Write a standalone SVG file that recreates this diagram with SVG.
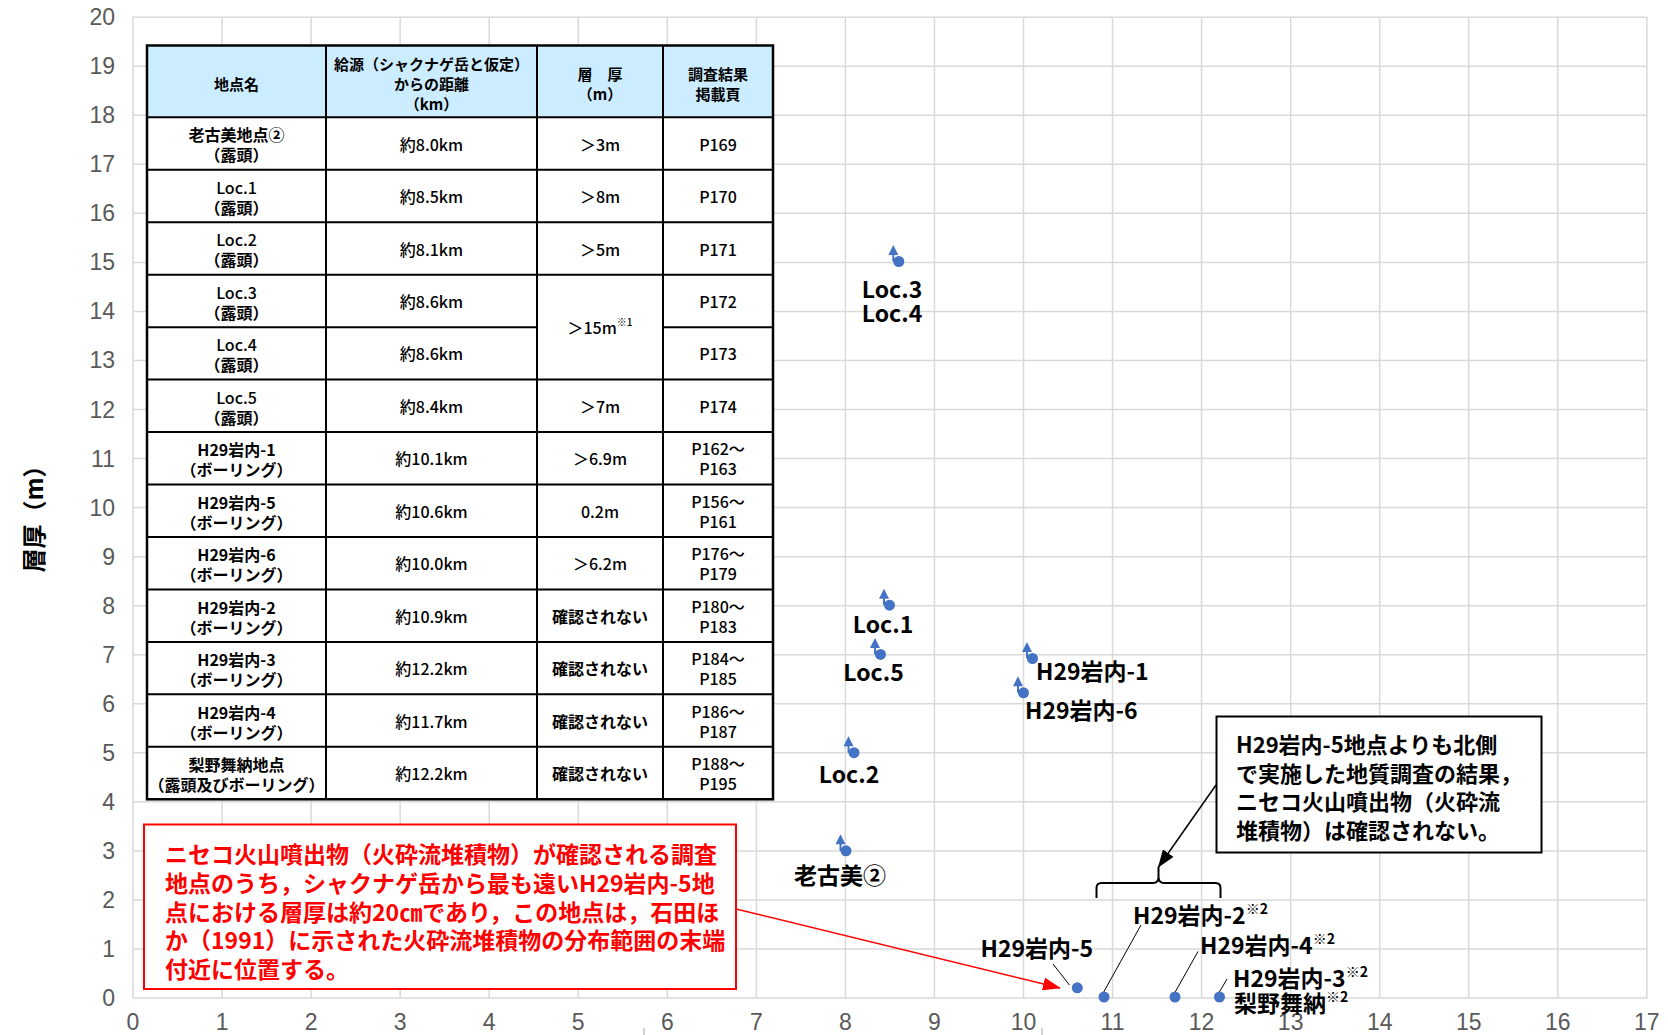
<svg xmlns="http://www.w3.org/2000/svg" width="1668" height="1035" viewBox="0 0 1668 1035">
<style>
.grid{fill:none;stroke:#d9d9d9;stroke-width:1.5}
.ax{font-family:"Liberation Sans",Arial,sans-serif;font-size:23px;fill:#595959;dominant-baseline:central}
.jp{font-family:"Noto Sans CJK JP",sans-serif;font-weight:bold;dominant-baseline:central}
.tb{font-size:16px;text-anchor:middle}
.hd{font-size:15px}
.md{font-weight:500}
.lb{font-size:23px}
.sup{font-size:14px}
.red{fill:#ff0000;font-size:23px}
.dot{fill:#4472c4}
.tl{fill:none;stroke:#000;stroke-width:2}
</style>
<defs>
<marker id="ahR" markerUnits="userSpaceOnUse" markerWidth="18" markerHeight="13" refX="17" refY="6.5" orient="auto">
<path d="M0,0 L18,6.5 L0,13 z" fill="#ff0000"/>
</marker>
<marker id="ahK" markerUnits="userSpaceOnUse" markerWidth="18" markerHeight="13" refX="17" refY="6.5" orient="auto">
<path d="M0,0 L18,6.5 L0,13 z" fill="#000"/>
</marker>
<g id="up">
<path d="M-5.5,-16.5 L-10.5,-6.5 L-0.5,-6.5 z" fill="#4472c4"/>
<polyline points="-5.5,-7 -5.5,-1 -2,1" fill="none" stroke="#4472c4" stroke-width="2"/>
<circle r="5.5" fill="#4472c4"/>
</g>
</defs>
<rect width="1668" height="1035" fill="#fff"/>
<g id="plot-grid">
<path class="grid" d="M222.05,17.2V998M311.1,17.2V998M400.15,17.2V998M489.2,17.2V998M578.25,17.2V998M667.3,17.2V998M756.35,17.2V998M845.4,17.2V998M934.45,17.2V998M1023.5,17.2V998M1112.55,17.2V998M1201.6,17.2V998M1290.65,17.2V998M1379.7,17.2V998M1468.75,17.2V998M1557.8,17.2V998M133,948.96H1646.85M133,899.92H1646.85M133,850.88H1646.85M133,801.84H1646.85M133,752.8H1646.85M133,703.76H1646.85M133,654.72H1646.85M133,605.68H1646.85M133,556.64H1646.85M133,507.6H1646.85M133,458.56H1646.85M133,409.52H1646.85M133,360.48H1646.85M133,311.44H1646.85M133,262.4H1646.85M133,213.36H1646.85M133,164.32H1646.85M133,115.28H1646.85M133,66.24H1646.85"/>
<rect class="grid" x="133" y="17.2" width="1513.85" height="980.8"/>
<path d="M644,1028V1035M1042,1028V1035" stroke="#a6a6a6" stroke-width="1"/>
</g>
<g id="y-axis" class="ax" text-anchor="end">
<text x="115" y="998">0</text><text x="115" y="948.96">1</text><text x="115" y="899.92">2</text><text x="115" y="850.88">3</text><text x="115" y="801.84">4</text><text x="115" y="752.8">5</text><text x="115" y="703.76">6</text><text x="115" y="654.72">7</text><text x="115" y="605.68">8</text><text x="115" y="556.64">9</text><text x="115" y="507.6">10</text><text x="115" y="458.56">11</text><text x="115" y="409.52">12</text><text x="115" y="360.48">13</text><text x="115" y="311.44">14</text><text x="115" y="262.4">15</text><text x="115" y="213.36">16</text><text x="115" y="164.32">17</text><text x="115" y="115.28">18</text><text x="115" y="66.24">19</text><text x="115" y="17.2">20</text>
</g>
<g id="x-axis" class="ax" text-anchor="middle">
<text x="133" y="1022">0</text><text x="222.05" y="1022">1</text><text x="311.1" y="1022">2</text><text x="400.15" y="1022">3</text><text x="489.2" y="1022">4</text><text x="578.25" y="1022">5</text><text x="667.3" y="1022">6</text><text x="756.35" y="1022">7</text><text x="845.4" y="1022">8</text><text x="934.45" y="1022">9</text><text x="1023.5" y="1022">10</text><text x="1112.55" y="1022">11</text><text x="1201.6" y="1022">12</text><text x="1290.65" y="1022">13</text><text x="1379.7" y="1022">14</text><text x="1468.75" y="1022">15</text><text x="1557.8" y="1022">16</text><text x="1646.85" y="1022">17</text>
</g>
<g id="y-title">
<text class="jp" font-size="24" text-anchor="middle" transform="translate(32,513) rotate(-90)">層厚（m）</text>
</g>
<g id="table">
<rect x="147" y="45.5" width="626" height="753.78" fill="#fff"/>
<rect x="147" y="45.5" width="626" height="71.8" fill="#ccecff"/>
<path class="tl" d="M147,117.3H773M147,169.76H773M147,222.22H773M147,274.68H773M147,327.14H537M663,327.14H773M147,379.6H773M147,432.06H773M147,484.52H773M147,536.98H773M147,589.44H773M147,641.9H773M147,694.36H773M147,746.82H773M326,45.5V799.28M537,45.5V799.28M663,45.5V799.28"/>
<rect x="147" y="45.5" width="626" height="753.78" fill="none" stroke="#000" stroke-width="2.5"/>
<g class="jp tb">
<text class="hd" x="236.5" y="83">地点名</text>
<text class="hd" x="431.5" y="63">給源（シャクナゲ岳と仮定）</text>
<text class="hd" x="431.5" y="83">からの距離</text>
<text class="hd" x="431.5" y="103">（km）</text>
<text class="hd" x="600" y="73">層　厚</text>
<text class="hd" x="600" y="93">（m）</text>
<text class="hd" x="718" y="73">調査結果</text>
<text class="hd" x="718" y="93">掲載頁</text>

<text x="236.5" y="134">老古美地点②</text><text x="236.5" y="154">（露頭）</text>
<text class="md" x="431.5" y="143.5">約8.0km</text><text class="md" x="600" y="143.5">＞3m</text><text class="md" x="718" y="143.5">P169</text>

<text class="md" x="236.5" y="186.5">Loc.1</text><text x="236.5" y="206.5">（露頭）</text>
<text class="md" x="431.5" y="196">約8.5km</text><text class="md" x="600" y="196">＞8m</text><text class="md" x="718" y="196">P170</text>

<text class="md" x="236.5" y="239">Loc.2</text><text x="236.5" y="259">（露頭）</text>
<text class="md" x="431.5" y="248.5">約8.1km</text><text class="md" x="600" y="248.5">＞5m</text><text class="md" x="718" y="248.5">P171</text>

<text class="md" x="236.5" y="291.5">Loc.3</text><text x="236.5" y="311.5">（露頭）</text>
<text class="md" x="431.5" y="301">約8.6km</text><text class="md" x="718" y="301">P172</text>
<text class="md" x="600" y="327.1">＞15m<tspan font-size="10" dy="-6">※1</tspan></text>

<text class="md" x="236.5" y="344">Loc.4</text><text x="236.5" y="364">（露頭）</text>
<text class="md" x="431.5" y="353.4">約8.6km</text><text class="md" x="718" y="353.4">P173</text>

<text class="md" x="236.5" y="396.5">Loc.5</text><text x="236.5" y="416.5">（露頭）</text>
<text class="md" x="431.5" y="405.8">約8.4km</text><text class="md" x="600" y="405.8">＞7m</text><text class="md" x="718" y="405.8">P174</text>

<text x="236.5" y="449">H29岩内-1</text><text x="236.5" y="469">（ボーリング）</text>
<text class="md" x="431.5" y="458.3">約10.1km</text><text class="md" x="600" y="458.3">＞6.9m</text><text class="md" x="718" y="448.3">P162～</text><text class="md" x="718" y="468.3">P163</text>

<text x="236.5" y="501.5">H29岩内-5</text><text x="236.5" y="521.5">（ボーリング）</text>
<text class="md" x="431.5" y="510.8">約10.6km</text><text class="md" x="600" y="510.8">0.2m</text><text class="md" x="718" y="500.8">P156～</text><text class="md" x="718" y="520.8">P161</text>

<text x="236.5" y="554">H29岩内-6</text><text x="236.5" y="574">（ボーリング）</text>
<text class="md" x="431.5" y="563.2">約10.0km</text><text class="md" x="600" y="563.2">＞6.2m</text><text class="md" x="718" y="553.2">P176～</text><text class="md" x="718" y="573.2">P179</text>

<text x="236.5" y="606.5">H29岩内-2</text><text x="236.5" y="626.5">（ボーリング）</text>
<text class="md" x="431.5" y="615.7">約10.9km</text><text x="600" y="615.7">確認されない</text><text class="md" x="718" y="605.7">P180～</text><text class="md" x="718" y="625.7">P183</text>

<text x="236.5" y="659">H29岩内-3</text><text x="236.5" y="679">（ボーリング）</text>
<text class="md" x="431.5" y="668.1">約12.2km</text><text x="600" y="668.1">確認されない</text><text class="md" x="718" y="658.1">P184～</text><text class="md" x="718" y="678.1">P185</text>

<text x="236.5" y="711.5">H29岩内-4</text><text x="236.5" y="731.5">（ボーリング）</text>
<text class="md" x="431.5" y="720.6">約11.7km</text><text x="600" y="720.6">確認されない</text><text class="md" x="718" y="710.6">P186～</text><text class="md" x="718" y="730.6">P187</text>

<text x="236.5" y="764">梨野舞納地点</text><text x="236.5" y="784">（露頭及びボーリング）</text>
<text class="md" x="431.5" y="773">約12.2km</text><text x="600" y="773">確認されない</text><text class="md" x="718" y="763">P188～</text><text class="md" x="718" y="783">P195</text>
</g>
</g>
<g id="connectors">
<line x1="736" y1="909" x2="1060" y2="988" stroke="#ff0000" stroke-width="1.5" marker-end="url(#ahR)"/>
<line x1="1216" y1="785" x2="1158.5" y2="867" stroke="#000" stroke-width="1.5" marker-end="url(#ahK)"/>
<path d="M1096.5,898 V888 Q1096.5,883 1101.5,883 H1153 Q1158.5,883 1158.5,877 V867 V877 Q1158.5,883 1164,883 H1215.5 Q1220.5,883 1220.5,888 V898" fill="none" stroke="#000" stroke-width="2"/>
<path d="M1053,964 L1069.5,985 M1141,925 L1102,995 M1198,951.5 L1173.5,995 M1227,979 L1218.5,993.5" stroke="#000" stroke-width="1"/>
</g>
<g id="points">
<use href="#up" x="846" y="850.8"/>
<use href="#up" x="889.5" y="605.2"/>
<use href="#up" x="854" y="752.7"/>
<use href="#up" x="898.8" y="261.5"/>
<use href="#up" x="880.5" y="654.4"/>
<use href="#up" x="1032.5" y="658.5"/>
<use href="#up" x="1023.5" y="692.8"/>
<circle class="dot" cx="1077.3" cy="987.8" r="5.5"/>
<circle class="dot" cx="1104" cy="997" r="5.5"/>
<circle class="dot" cx="1175" cy="997" r="5.5"/>
<circle class="dot" cx="1219.5" cy="997" r="5.5"/>
</g>
<g id="point-labels" class="jp lb">
<text x="892" y="287.5" text-anchor="middle">Loc.3</text>
<text x="892" y="311.5" text-anchor="middle">Loc.4</text>
<text x="883" y="622.5" text-anchor="middle">Loc.1</text>
<text x="873.5" y="671" text-anchor="middle">Loc.5</text>
<text x="1036" y="670">H29岩内-1</text>
<text x="1025" y="708.5">H29岩内-6</text>
<text x="849" y="773.3" text-anchor="middle">Loc.2</text>
<text x="840" y="873.5" text-anchor="middle">老古美②</text>
<text x="980.5" y="946.5">H29岩内-5</text>
<text x="1133" y="913.5">H29岩内-2<tspan class="sup" dy="-6">※2</tspan></text>
<text x="1200" y="943.5">H29岩内-4<tspan class="sup" dy="-6">※2</tspan></text>
<text x="1233" y="976.7">H29岩内-3<tspan class="sup" dy="-6">※2</tspan></text>
<text x="1234" y="1002.3">梨野舞納<tspan class="sup" dy="-6">※2</tspan></text>
</g>
<g id="red-note">
<rect x="144" y="824.5" width="592" height="164.5" fill="#fff" stroke="#ff0000" stroke-width="2"/>
<text class="jp red" x="165" y="853">ニセコ火山噴出物（火砕流堆積物）が確認される調査</text>
<text class="jp red" x="165" y="881.8">地点のうち，シャクナゲ岳から最も遠いH29岩内-5地</text>
<text class="jp red" x="165" y="910.6">点における層厚は約20㎝であり，この地点は，石田ほ</text>
<text class="jp red" x="165" y="939.4">か（1991）に示された火砕流堆積物の分布範囲の末端</text>
<text class="jp red" x="165" y="968.2">付近に位置する。</text>
</g>
<g id="callout">
<rect x="1216.5" y="716.5" width="325" height="136" fill="#fff" stroke="#000" stroke-width="2"/>
<g class="jp" font-size="22">
<text x="1236" y="743">H29岩内-5地点よりも北側</text>
<text x="1236" y="771.5">で実施した地質調査の結果，</text>
<text x="1236" y="800">ニセコ火山噴出物（火砕流</text>
<text x="1236" y="828.5">堆積物）は確認されない。</text>
</g>
</g>
</svg>
